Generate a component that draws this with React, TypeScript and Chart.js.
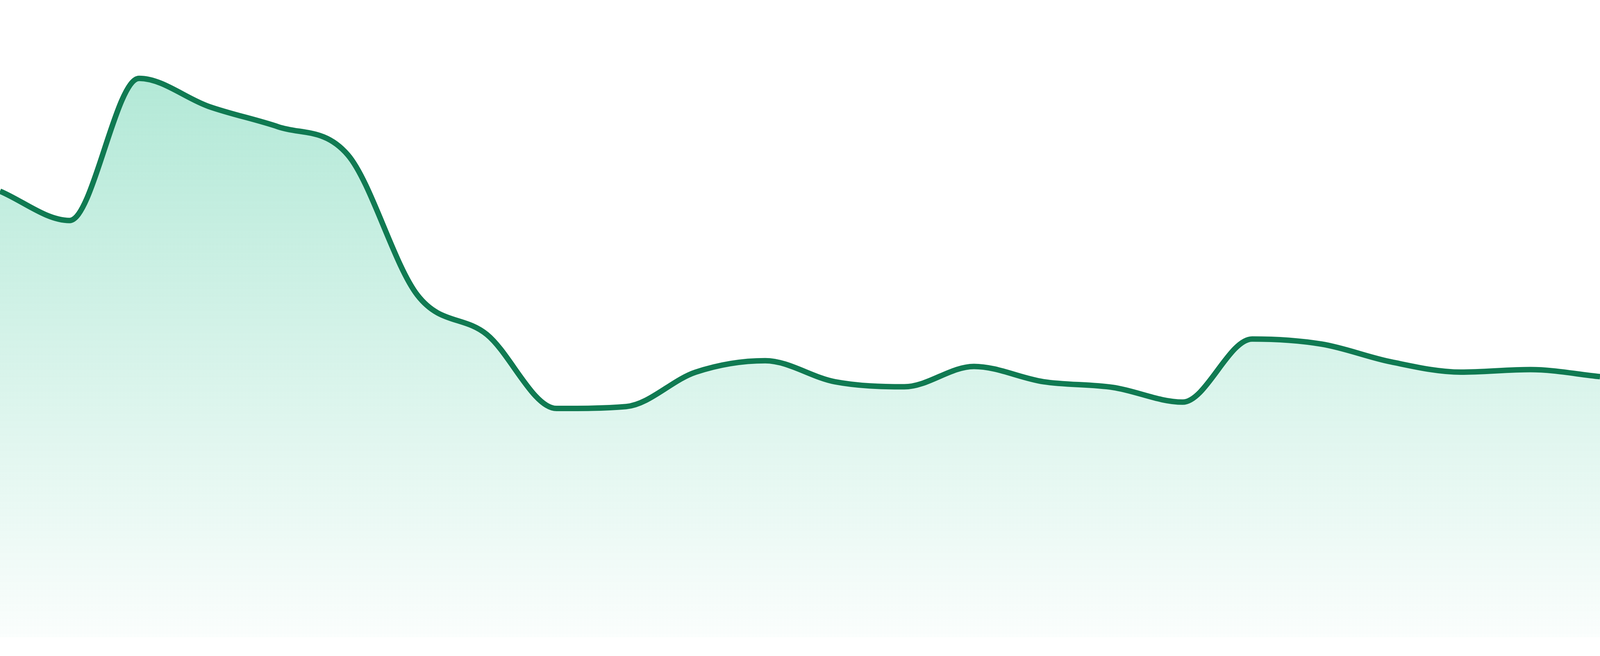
import { useEffect, useRef } from "react";
import { Chart, registerables } from "chart.js";
import type { ScriptableContext } from "chart.js";

Chart.register(...registerables);

// 24 monthly points, y on a 0–100 scale
const MONTHS = [
  "Jan", "Feb", "Mar", "Apr", "May", "Jun", "Jul", "Aug", "Sep", "Oct", "Nov", "Dec",
  "Jan", "Feb", "Mar", "Apr", "May", "Jun", "Jul", "Aug", "Sep", "Oct", "Nov", "Dec",
];
const VALUES = [
  70.0, 65.4, 87.7, 83.3, 80.1, 75.7, 53.7, 47.5, 35.9, 36.2, 41.6, 43.4,
  40.1, 39.3, 42.5, 40.1, 39.2, 36.9, 46.8, 46.0, 43.2, 41.6, 42.0, 40.9,
];
const Y_MIN = 0;
const Y_MAX = 100;

const LINE_COLOR = "#107a52";

function areaFill(ctx: ScriptableContext<"line">) {
  const { chart } = ctx;
  const area = chart.chartArea;
  if (!area) return "rgba(16,185,129,0.2)";
  const g = chart.ctx.createLinearGradient(0, area.top, 0, area.bottom);
  g.addColorStop(0, "rgba(16,185,129,0.36)");
  g.addColorStop(1, "rgba(16,185,129,0.02)");
  return g;
}

function AreaChart() {
  const canvasRef = useRef<HTMLCanvasElement>(null);
  const chartRef = useRef<Chart<"line"> | null>(null);

  useEffect(() => {
    const canvas = canvasRef.current;
    if (!canvas) return;

    chartRef.current?.destroy();
    chartRef.current = new Chart(canvas, {
      type: "line",
      data: {
        labels: MONTHS,
        datasets: [
          {
            data: VALUES,
            borderColor: LINE_COLOR,
            borderWidth: 14,
            backgroundColor: areaFill,
            fill: "origin",
            cubicInterpolationMode: "monotone",
            pointRadius: 0,
            pointHoverRadius: 0,
          },
        ],
      },
      options: {
        animation: false,
        responsive: true,
        maintainAspectRatio: false,
        // thin white strip under the area
        layout: { padding: { top: 0, left: 0, right: 0, bottom: 48 } },
        plugins: {
          legend: { display: false },
          tooltip: { enabled: false },
        },
        scales: {
          x: { display: false },
          y: { display: false, min: Y_MIN, max: Y_MAX },
        },
      },
    });

    return () => {
      chartRef.current?.destroy();
      chartRef.current = null;
    };
  }, []);

  return (
    <div style={{ position: "fixed", top: 0, left: 0, right: 0, bottom: 0, background: "#fff" }}>
      <canvas ref={canvasRef} />
    </div>
  );
}

export default function App() {
  return <AreaChart />;
}
